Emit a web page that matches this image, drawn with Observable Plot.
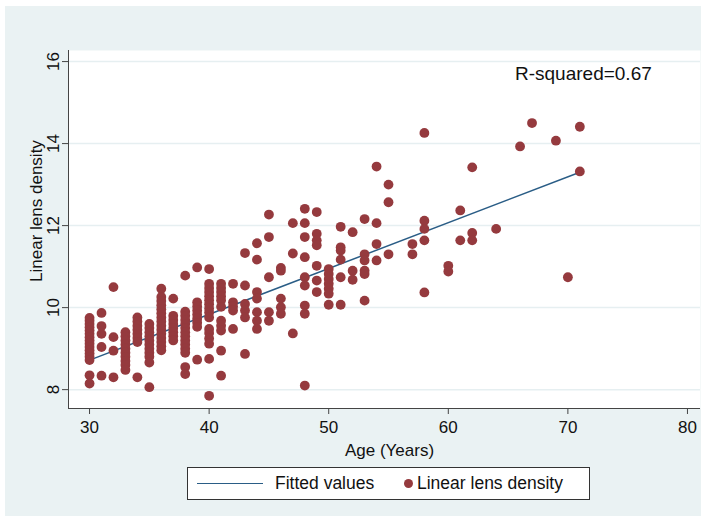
<!DOCTYPE html>
<html><head><meta charset="utf-8">
<script src="https://cdn.jsdelivr.net/npm/d3@7"></script>
<script src="https://cdn.jsdelivr.net/npm/@observablehq/plot@0.6"></script>
<style>
body{margin:0;background:#fff;font-family:"Liberation Sans",Arial,Helvetica,sans-serif;}
#wrap{position:relative;width:711px;height:521px;overflow:hidden}
#bg{position:absolute;left:5px;top:6px;width:696px;height:510px;background:#eaf2f3}
#chart{position:absolute;left:0;top:0}
#r2{position:absolute;left:515px;top:63px;font-size:19px;color:#111;white-space:nowrap}
#ylab{position:absolute;left:37px;top:211px;transform:translate(-50%,-50%) rotate(-90deg);font-size:17px;color:#111;white-space:nowrap}
#legend{position:absolute;left:187px;top:467px;width:401px;height:31px;background:#fff;border:1px solid #333;font-size:17.5px;color:#111}
#legend .ln{position:absolute;left:9px;top:15px;width:66px;height:0;border-top:1.5px solid #2a5d86}
#legend .t1{position:absolute;left:87px;top:5px;white-space:nowrap}
#legend .dot{position:absolute;left:216px;top:11px;width:9px;height:9px;border-radius:50%;background:#953a3e}
#legend .t2{position:absolute;left:229px;top:5px;white-space:nowrap}
</style></head><body>
<div id="wrap">
<div id="bg"></div>
<div id="chart"></div>
<div id="r2">R-squared=0.67</div>
<div id="ylab">Linear lens density</div>
<div id="legend"><div class="ln"></div><div class="t1">Fitted values</div><div class="dot"></div><div class="t2">Linear lens density</div></div>
</div>
<script>
// ages observed (years) and lens densities measured at each age
const groupAges = [30,31,32,33,34,35,36,37,38,39,40,41,42,43,44,45,46,47,48,49,50,51,52,53,54,55,57,58,60,61,62,64,66,67,69,70,71];
const groupDensities = [
  [9.75,9.68,9.6,9.52,9.44,9.36,9.28,9.2,9.12,9.04,8.96,8.88,8.8,8.72,8.35,8.15],
  [9.87,9.55,9.36,9.04,8.34],
  [10.5,9.28,8.95,8.3],
  [9.4,9.3,9.2,9.1,9.0,8.9,8.8,8.7,8.6,8.48],
  [9.76,9.66,9.56,9.46,9.36,9.26,9.16,8.3],
  [9.6,9.5,9.4,9.3,9.2,9.1,9.0,8.9,8.8,8.66,8.06],
  [10.46,10.26,10.16,10.06,9.96,9.86,9.76,9.66,9.56,9.46,9.36,9.26,9.16,9.06,8.96],
  [10.22,9.8,9.7,9.6,9.5,9.4,9.3,9.2],
  [10.78,9.9,9.8,9.7,9.6,9.5,9.4,9.3,9.2,9.1,9.0,8.9,8.55,8.38],
  [10.98,10.13,10.03,9.93,9.83,9.73,9.63,9.53,8.73],
  [10.94,10.58,10.48,10.38,10.28,10.18,10.08,9.98,9.88,9.76,9.48,9.38,9.25,9.12,8.75,7.85],
  [10.58,10.48,10.38,10.28,10.18,10.02,9.68,9.56,9.44,8.95,8.34],
  [10.58,10.13,10.03,9.93,9.48],
  [11.33,10.54,10.09,9.93,9.76,8.87],
  [11.57,11.17,10.38,10.22,9.89,9.68,9.48],
  [12.27,11.72,10.74,9.89,9.68],
  [10.97,10.9,10.22,10.01,9.85],
  [12.06,11.32,9.37],
  [12.41,12.06,11.72,11.23,10.74,10.54,10.05,9.85,8.1],
  [12.33,11.8,11.64,11.52,11.02,10.66,10.38],
  [10.94,10.82,10.7,10.58,10.46,10.34,10.07],
  [11.97,11.47,11.39,11.17,10.74,10.07],
  [11.84,10.9,10.68],
  [12.16,11.3,11.15,10.9,10.82,10.17],
  [13.44,12.06,11.55,11.15],
  [13.0,12.57,11.3],
  [11.55,11.3],
  [14.26,12.12,11.92,11.64,10.37],
  [11.02,10.88],
  [12.37,11.64],
  [13.42,11.82,11.64],
  [11.92],
  [13.93],
  [14.5],
  [14.07],
  [10.74],
  [14.41,13.32]
];
// fitted values (end points of the regression line)
const fitAge = [30, 71];
const fitValue = [8.72, 13.30];
const xTicks = [30,40,50,60,70,80];
const yTicks = [8,10,12,14,16];
const xDomain = [28.24, 81.09];
const yDomain = [7.54, 16.27];

const points = groupAges.flatMap((a,i) => groupDensities[i].map(v => ({age:a, density:v})));
const fit = fitAge.map((a,i) => ({age:a, value:fitValue[i]}));

const font = '"Liberation Sans",Arial,Helvetica,sans-serif';
const chart = Plot.plot({
  width: 711, height: 521,
  marginLeft: 68, marginRight: 11, marginTop: 50, marginBottom: 113,
  style: {background: "transparent", fontFamily: font, fontSize: "16px", color: "#111"},
  x: {domain: xDomain},
  y: {domain: yDomain},
  marks: [
    Plot.frame({fill: "white", stroke: null}),
    Plot.ruleY(yTicks, {stroke: "#e6eff1", strokeWidth: 1.5}),
    Plot.ruleX([xDomain[0]], {stroke: "#444", strokeWidth: 1}),
    Plot.ruleY([yDomain[0]], {stroke: "#444", strokeWidth: 1}),
    Plot.axisX({ticks: xTicks, tickSize: 6, tickPadding: 6, fontSize: 17, stroke: "#444", label: null}),
    Plot.axisY({ticks: yTicks, tickSize: 6, tickPadding: 4, tickRotate: -90, fontSize: 17, stroke: "#444", label: null}),
    Plot.text(["Age (Years)"], {frameAnchor: "bottom", dy: 35, fontSize: 17, lineAnchor: "top", dx: 5}),
    Plot.line(fit, {x: "age", y: "value", stroke: "#2a5d86", strokeWidth: 1.5}),
    Plot.dot(points, {x: "age", y: "density", r: 4.9, fill: "#953a3e", stroke: null})
  ]
});
document.getElementById("chart").appendChild(chart);
</script>
</body></html>
